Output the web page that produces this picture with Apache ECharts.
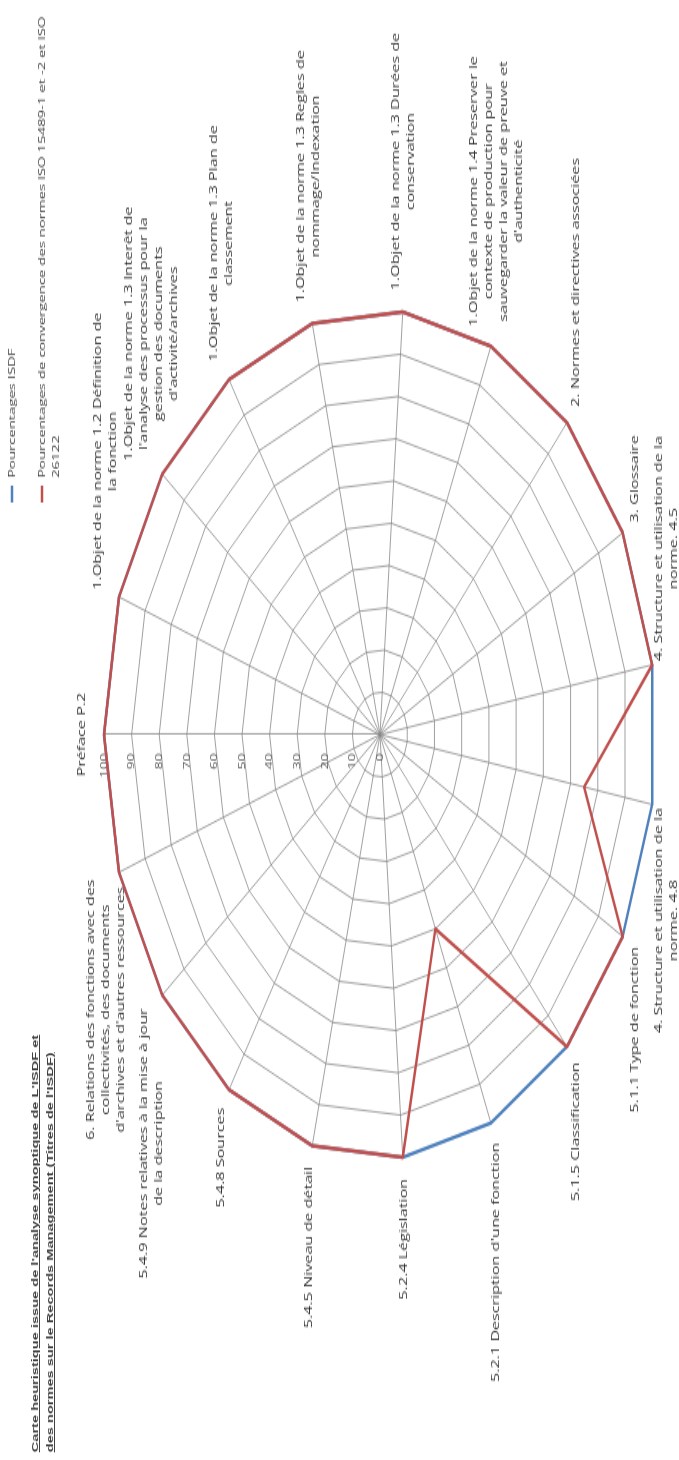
<!DOCTYPE html>
<html>
<head>
<meta charset="utf-8">
<script src="https://cdn.jsdelivr.net/npm/echarts@6/dist/echarts.min.js"></script>
<style>
  html, body { margin: 0; padding: 0; background: #fff; overflow: hidden; }
  #stage { position: relative; width: 679px; height: 1460px; overflow: hidden; }
  /* the chart is drawn upright, then turned a quarter and stretched like the scan */
  #rotated {
    position: absolute; left: 0; top: 0;
    width: 950px; height: 679px;
    transform-origin: 0 0;
    transform: translateY(1460px) scale(1, 1.5368) rotate(-90deg);
  }
  #chart { width: 950px; height: 679px; }
  #title {
    position: absolute; left: 5px; top: 27px;
    font: bold 9.5px 'Liberation Sans', Arial, sans-serif;
    line-height: 15px; color: #404040;
    text-decoration: underline; white-space: pre;
  }
</style>
</head>
<body>
<div id="stage">
  <div id="rotated">
    <div id="chart"></div>
    <div id="title">Carte heuristique issue de l'analyse synoptique de L'ISDF et
des normes sur le Records Management (Titres de l'ISDF)</div>
  </div>
</div>
<script>
// axes, clockwise from the top
const categories = [
  "Préface P.2",
  "1.Objet de la norme 1.2 Définition de\nla fonction",
  "1.Objet de la norme 1.3 Interêt de\nl'analyse des processus pour la\ngestion des documents\nd'activité/archives",
  "1.Objet de la norme 1.3 Plan de\nclassement",
  "1.Objet de la norme 1.3 Regles de\nnommage/Indexation",
  "1.Objet de la norme 1.3 Durées de\nconservation",
  "1.Objet de la norme 1.4 Preserver le\ncontexte de production pour\nsauvegarder la valeur de preuve et\nd'authenticité",
  "2. Normes et directives associées",
  "3. Glossaire",
  "4. Structure et utilisation de la\nnorme. 4.5",
  "4. Structure et utilisation de la\nnorme. 4.8",
  "5.1.1 Type de fonction",
  "5.1.5 Classification",
  "5.2.1 Description d'une fonction",
  "5.2.4 Législation",
  "5.4.5 Niveau de détail",
  "5.4.8 Sources",
  "5.4.9 Notes relatives à la mise à jour\nde la description",
  "6. Relations des fonctions avec des\ncollectivités, des documents\nd'archives et d'autres ressources"
];
const isdfValues = [100, 100, 100, 100, 100, 100, 100, 100, 100, 100, 100, 100, 100, 100, 100, 100, 100, 100, 100];
const convergenceValues = [100, 100, 100, 100, 100, 100, 100, 100, 100, 100, 75, 100, 100, 50, 100, 100, 100, 100, 100];
const seriesNames = ["Pourcentages ISDF", "Pourcentages de convergence des normes ISO 15489-1 et -2 et ISO 26122"];
// leading empty line keeps the marker level with the first line of text
const legendText = ["Pourcentages ISDF", "\nPourcentages de convergence des normes ISO 15489-1 et -2 et ISO\n26122"];
const valueMin = 0;
const valueMax = 100;
const valueSteps = 10;

const FONT = "'Open Sans', sans-serif";

// echarts lays radar axes out counter-clockwise, so walk the list backwards after the first
const order = categories.map((_, i) => (i === 0 ? 0 : categories.length - i));

const indicators = order.map((i, k) => {
  const ind = { name: categories[i], min: valueMin, max: valueMax };
  if (k === 0) {
    ind.axisLabel = { show: true, color: '#595959', fontSize: 9.5, fontFamily: FONT, margin: 12 };
  }
  return ind;
});

const chart = echarts.init(document.getElementById('chart'));
const option = {
  animation: false,
  legend: {
    orient: 'vertical',
    left: 623,
    top: 5,
    padding: 0,
    itemGap: 2,
    itemWidth: 11,
    itemHeight: 2.5,
    icon: 'rect',
    data: seriesNames,
    formatter: name => legendText[seriesNames.indexOf(name)],
    textStyle: { color: '#404040', fontSize: 9.7, fontFamily: FONT, lineHeight: 14 }
  },
  radar: {
    center: [472, 380],
    radius: 276,
    startAngle: 90,
    splitNumber: valueSteps,
    shape: 'polygon',
    nameGap: 14,
    axisName: {
      color: '#333',
      fontSize: 10.5,
      fontFamily: FONT,
      lineHeight: 15,
      formatter: name => name.split('\n').map(s => '{c|' + s + '}').join('\n'),
      rich: {
        c: { align: 'center', color: '#333', fontSize: 10.5, fontFamily: FONT, lineHeight: 15 }
      }
    },
    axisLine: { lineStyle: { color: '#888', width: 0.8 } },
    splitLine: { lineStyle: { color: '#888', width: 0.8 } },
    splitArea: { show: false },
    axisTick: { show: false },
    axisLabel: { show: false },
    indicator: indicators
  },
  series: [{
    type: 'radar',
    symbol: 'none',
    data: [
      {
        name: seriesNames[0],
        value: order.map(i => isdfValues[i]),
        itemStyle: { color: '#4F81BD' },
        lineStyle: { color: '#4F81BD', width: 2.4 }
      },
      {
        name: seriesNames[1],
        value: order.map(i => convergenceValues[i]),
        itemStyle: { color: '#C0504D' },
        lineStyle: { color: '#C0504D', width: 2.4 }
      }
    ]
  }]
};
chart.setOption(option);
</script>
</body>
</html>
